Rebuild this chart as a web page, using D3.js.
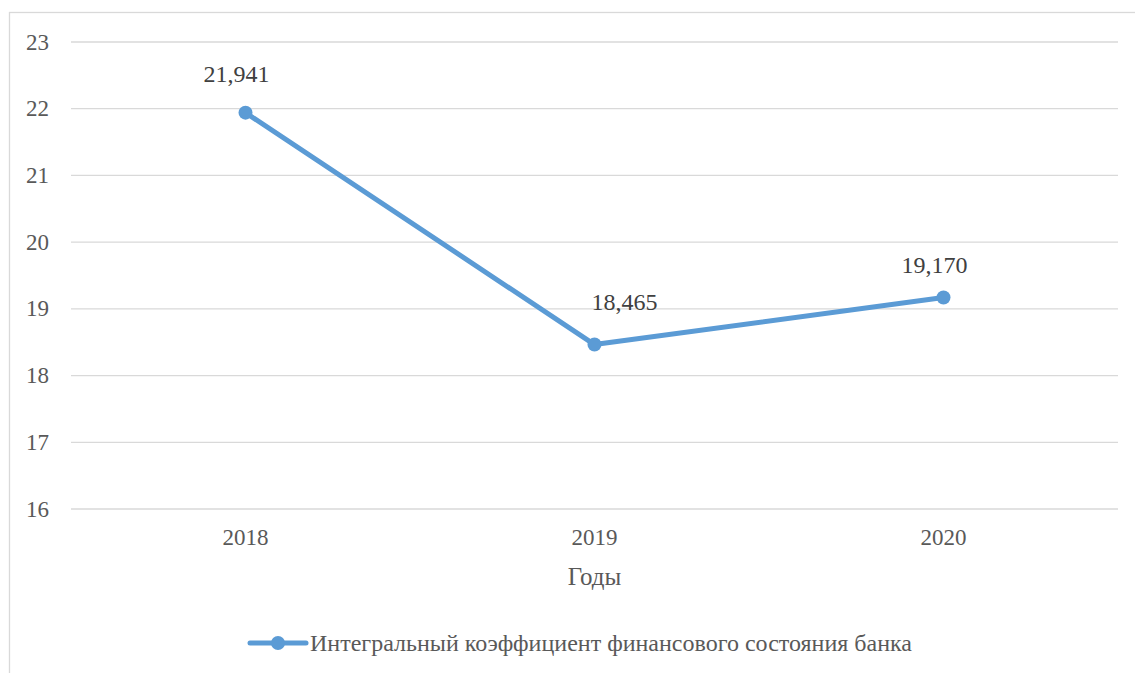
<!DOCTYPE html>
<html>
<head>
<meta charset="utf-8">
<script src="https://cdn.jsdelivr.net/npm/d3@7"></script>
<style>
  body { margin: 0; background: #fff; }
</style>
</head>
<body>
<svg id="chart" width="1135" height="673"></svg>
<script>
// data
const years = ["2018", "2019", "2020"];
const values = [21.941, 18.465, 19.17];
const valueLabels = ["21,941", "18,465", "19,170"];
const yTicks = [16, 17, 18, 19, 20, 21, 22, 23];
const seriesName = "Интегральный коэффициент финансового состояния банка";
const axisTitle = "Годы";

const font = "Liberation Serif";
const svg = d3.select("#chart");
const margin = {left: 71, right: 17, top: 42, bottom: 164};
const width = 1135, height = 673;

// outer border of the chart area
svg.append("rect")
  .attr("x", 9.5).attr("y", 12.5)
  .attr("width", 1135).attr("height", 680)
  .attr("fill", "none").attr("stroke", "#d9d9d9").attr("stroke-width", 1.3);

const x = d3.scaleBand()
  .domain(years)
  .range([margin.left, width - margin.right]);

const y = d3.scaleLinear()
  .domain([16, 23])
  .range([height - margin.bottom, margin.top]);

// gridlines
svg.append("g").selectAll("line")
  .data(yTicks)
  .join("line")
    .attr("x1", margin.left).attr("x2", width - margin.right)
    .attr("y1", d => y(d)).attr("y2", d => y(d))
    .attr("stroke", "#d9d9d9").attr("stroke-width", 1.3);

// y tick labels
svg.append("g").selectAll("text")
  .data(yTicks)
  .join("text")
    .attr("x", 49).attr("y", d => y(d))
    .attr("dy", "0.33em")
    .attr("text-anchor", "end")
    .attr("font-family", font)
    .attr("font-size", 23).attr("fill", "#595959")
    .text(d => d);

// x tick labels
svg.append("g").selectAll("text")
  .data(years)
  .join("text")
    .attr("x", d => x(d) + x.bandwidth() / 2)
    .attr("y", 545)
    .attr("text-anchor", "middle")
    .attr("font-family", font)
    .attr("font-size", 23).attr("fill", "#595959")
    .text(d => d);

svg.append("text")
  .attr("x", x("2019") + x.bandwidth() / 2).attr("y", 585)
  .attr("text-anchor", "middle")
  .attr("font-family", font)
  .attr("font-size", 25).attr("fill", "#595959")
  .text(axisTitle);

const pts = years.map((yr, i) => ({year: yr, value: values[i], label: valueLabels[i]}));
const color = "#5b9bd5";

const line = d3.line()
  .x(d => x(d.year) + x.bandwidth() / 2)
  .y(d => y(d.value));

svg.append("path")
  .datum(pts)
  .attr("d", line)
  .attr("fill", "none")
  .attr("stroke", color)
  .attr("stroke-width", 5)
  .attr("stroke-linejoin", "round");

svg.append("g").selectAll("circle")
  .data(pts)
  .join("circle")
    .attr("cx", d => x(d.year) + x.bandwidth() / 2)
    .attr("cy", d => y(d.value))
    .attr("r", 7)
    .attr("fill", color);

// data labels (moved by hand in the original, so each has its own nudge)
const labelNudge = [[-9, -31], [30, -35], [-9, -25]];
svg.append("g").selectAll("text")
  .data(pts)
  .join("text")
    .attr("x", (d, i) => x(d.year) + x.bandwidth() / 2 + labelNudge[i][0])
    .attr("y", (d, i) => y(d.value) + labelNudge[i][1])
    .attr("text-anchor", "middle")
    .attr("font-family", font)
    .attr("font-size", 24).attr("fill", "#404040")
    .text(d => d.label);

// legend
const lg = svg.append("g").attr("transform", "translate(250,643)");
lg.append("line")
  .attr("x1", 0).attr("x2", 56).attr("y1", 0).attr("y2", 0)
  .attr("stroke", color).attr("stroke-width", 5).attr("stroke-linecap", "round");
lg.append("circle").attr("cx", 28).attr("cy", 0).attr("r", 7).attr("fill", color);
lg.append("text")
  .attr("x", 60).attr("y", 0).attr("dy", "0.35em")
  .attr("font-family", font)
  .attr("font-size", 24).attr("fill", "#595959")
  .text(seriesName);
</script>
</body>
</html>
